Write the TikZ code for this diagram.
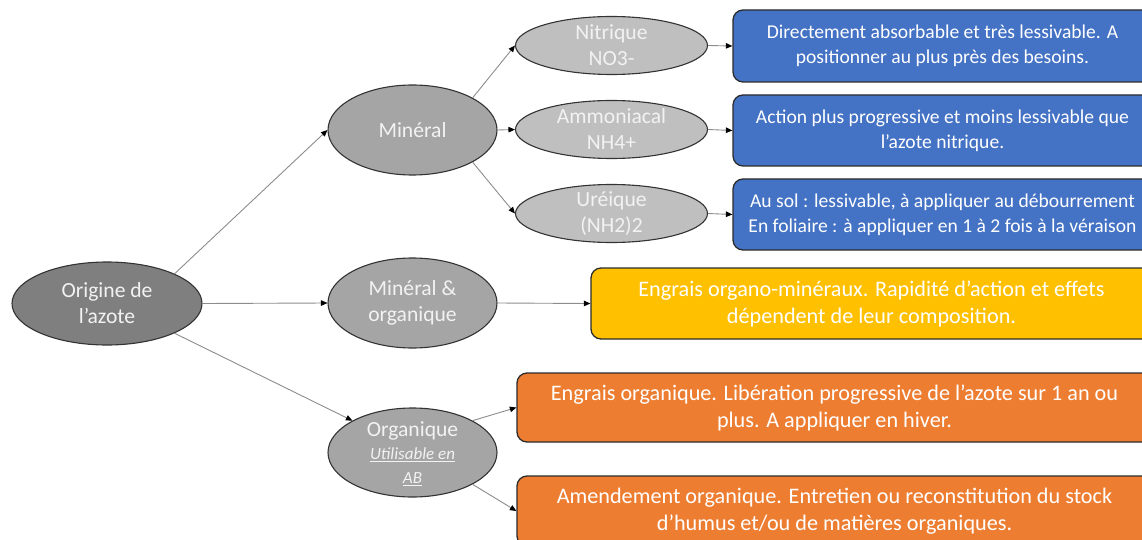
\documentclass[tikz,border=0pt]{standalone}
\usepackage{fontspec}
\setmainfont{Carlito}
\usetikzlibrary{shapes.geometric,arrows.meta}
\definecolor{gdark}{HTML}{7F7F7F}
\definecolor{gmid}{HTML}{A5A5A5}
\definecolor{glight}{HTML}{BFBFBF}
\definecolor{ellborder}{HTML}{333333}
\definecolor{etxt}{HTML}{F2F2F2}
\definecolor{lineg}{HTML}{8C8C8C}
\definecolor{bblue}{HTML}{4472C4}
\definecolor{byellow}{HTML}{FFC000}
\definecolor{borange}{HTML}{ED7D31}
\definecolor{boxborder}{HTML}{2B2B2B}
\begin{document}
\begin{tikzpicture}[x=1pt,y=-1pt,
  ellbase/.style={ellipse, draw=ellborder, line width=1.1pt, inner sep=0pt},
  etext/.style={align=center, text=etxt, font=\fontsize{21.6}{26}\selectfont, inner sep=0pt},
  boxbase/.style={rectangle, rounded corners=10pt, draw=boxborder, line width=1.3pt,
    align=center, text=white, font=\fontsize{19.6}{25}\selectfont, inner sep=0pt},
  bigtext/.style={font=\fontsize{22.2}{27}\selectfont},
  conn/.style={draw=lineg, line width=0.9pt, -{Triangle[length=6.5pt,width=5.5pt,color=black]}}
]
\useasboundingbox (0,0) rectangle (1142,540);
\clip (0,0) rectangle (1142,540);

% ellipses
\node[ellbase, fill=gdark, minimum width=190pt, minimum height=83pt] (orig) at (107,303.5) {};
\node[etext] (origt) at (orig) {Origine de\\l’azote};

\node[ellbase, fill=gmid, minimum width=169pt, minimum height=90pt] (min) at (412.5,130) {};
\node[etext] (mint) at (min) {Minéral};

\node[ellbase, fill=gmid, minimum width=169pt, minimum height=90pt] (mo) at (412.5,303) {};
\node[etext] (mot) at (mo) {Minéral \&\\organique};

\node[ellbase, fill=gmid, minimum width=169pt, minimum height=89pt] (org) at (412.5,452.5) {};
\node[etext] (orgt) at (org.center) [yshift=-1.5pt] {Organique\\[-3pt]{\fontsize{17}{20}\selectfont\itshape\underline{Utilisable en}}\\[-2pt]{\fontsize{17}{20}\selectfont\itshape\underline{AB}}};

\node[ellbase, fill=glight, minimum width=192pt, minimum height=58pt] (nit) at (611.5,45.5) {};
\node[etext] (nitt) at (nit) {Nitrique\\NO3-};

\node[ellbase, fill=glight, minimum width=192pt, minimum height=58pt] (amm) at (611.5,129.5) {};
\node[etext] (ammt) at (amm) {Ammoniacal\\NH4+};

\node[ellbase, fill=glight, minimum width=192pt, minimum height=58pt] (ure) at (611.5,213.5) {};
\node[etext] (uret) at (ure) {Uréique\\(NH2)2};

% boxes
\node[boxbase, fill=bblue, minimum width=419pt, minimum height=72pt] (b1) at (942.5,46)
  {Directement absorbable et très lessivable. A\\positionner au plus près des besoins.};
\node[boxbase, fill=bblue, minimum width=419pt, minimum height=71pt] (b2) at (942.5,130.5)
  {Action plus progressive et moins lessivable que\\l’azote nitrique.};
\node[boxbase, fill=bblue, minimum width=419pt, minimum height=71pt] (b3) at (942.5,214.5)
  {Au sol : lessivable, à appliquer au débourrement\\En foliaire : à appliquer en 1 à 2 fois à la véraison};
\node[boxbase, bigtext, fill=byellow, minimum width=561pt, minimum height=71pt] (yel) at (871.5,303.5)
  {Engrais organo-minéraux. Rapidité d’action et effets\\dépendent de leur composition.};
\node[boxbase, bigtext, fill=borange, minimum width=635pt, minimum height=69pt] (o1) at (834.5,407.5)
  {Engrais organique. Libération progressive de l’azote sur 1 an ou\\plus. A appliquer en hiver.};
\node[boxbase, bigtext, fill=borange, minimum width=635pt, minimum height=70pt] (o2) at (834.5,511)
  {Amendement organique. Entretien ou reconstitution du stock\\d’humus et/ou de matières organiques.};

% connectors
\draw[conn] (orig.north east) -- (min.west);
\draw[conn] (orig.east) -- (mo.west);
\draw[conn] (orig.south east) -- (org.north west);
\draw[conn] (min.north east) -- (nit.west);
\draw[conn] (min.east) -- (amm.west);
\draw[conn] (min.south east) -- (ure.west);
\draw[conn] (nit.east) -- (b1.west);
\draw[conn] (amm.east) -- (b2.west);
\draw[conn] (ure.east) -- (b3.west);
\draw[conn] (mo.east) -- (yel.west);
\draw[conn] (org.north east) -- (o1.west);
\draw[conn] (org.south east) -- (o2.west);
\end{tikzpicture}
\end{document}
